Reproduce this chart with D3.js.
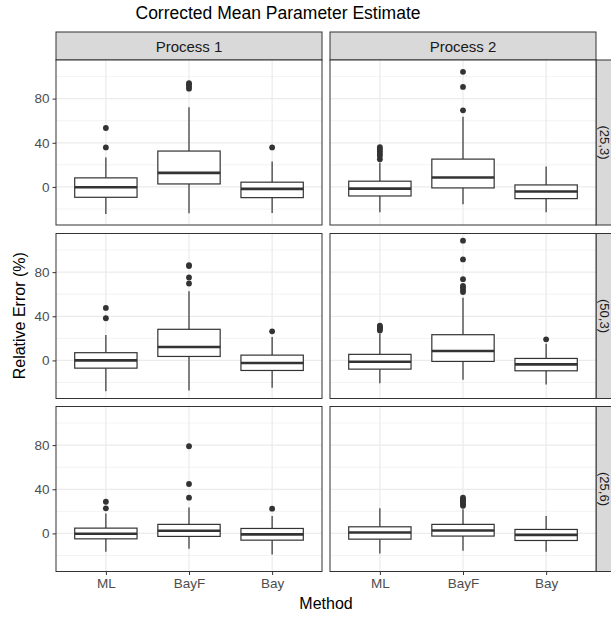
<!DOCTYPE html>
<html>
<head>
<meta charset="utf-8">
<script src="https://cdn.jsdelivr.net/npm/d3@7"></script>
<style>
  body { margin: 0; background: #fff; }
  svg { display: block; font-family: "Liberation Sans", Arial, sans-serif; }
</style>
</head>
<body>
<svg id="chart" width="611" height="617"></svg>
<script>
// ---------- data ----------
const methods = ["ML", "BayF", "Bay"];
const processes = ["Process 1", "Process 2"];
const settings = ["(25,3)", "(50,3)", "(25,6)"];
const yTicks = [0, 40, 80];
const yMinor = [-20, 20, 60, 100];
const titleText = "Corrected Mean Parameter Estimate";
const xTitle = "Method";
const yTitle = "Relative Error (%)";

// stats indexed [setting][process][method]
const whiskerLow = [
  [[-24.5, -23.9, -23.6], [-23.0, -15.7, -23.0]],
  [[-27.9, -27.3, -24.8], [-20.6, -17.6, -21.8]],
  [[-16.7, -14.0, -19.1], [-18.2, -15.8, -16.7]]
];
const q1 = [
  [[-9.4, 2.7, -9.7], [-8.2, -0.9, -10.6]],
  [[-7.0, 3.6, -9.1], [-7.9, -0.9, -9.4]],
  [[-4.9, -2.7, -6.1], [-5.2, -2.4, -6.4]]
];
const median = [
  [[-0.3, 12.7, -1.8], [-1.5, 8.5, -4.2]],
  [[0.0, 12.1, -2.4], [-1.2, 8.5, -3.6]],
  [[-0.3, 2.4, -0.9], [0.9, 2.7, -1.3]]
];
const q3 = [
  [[8.2, 32.5, 4.3], [5.2, 25.2, 1.8]],
  [[7.0, 28.2, 4.8], [5.5, 23.3, 1.8]],
  [[4.8, 8.2, 4.5], [6.0, 8.2, 3.6]]
];
const whiskerHigh = [
  [[26.7, 72.2, 23.0], [21.8, 63.6, 18.5]],
  [[23.0, 62.7, 21.2], [24.2, 56.7, 15.2]],
  [[18.0, 23.6, 15.7], [22.7, 21.8, 15.7]]
];
const outliers = [
  [[[53.4, 35.8], [89, 91, 93, 94], [35.8]],
   [[25, 28, 30, 32, 34, 36], [104.3, 90.6, 69.4], []]],
  [[[47.6, 38.2], [86.4, 85.5, 75.2, 69.7], [26.4]],
   [[27, 28.5, 29.5, 30.5, 31.5], [108.5, 91.5, 73.6, 62, 64, 66, 67.5], [19.1]]],
  [[[28.7, 22.7], [79, 44.8, 32.4], [22.4]],
   [[], [25, 26.5, 28, 29.5, 31, 32.5], []]]
];

// ---------- layout ----------
const svg = d3.select("#chart");
const colX = [56, 330];
const panelW = 266;
const rowY = [60, 233.5, 406.5];
const panelH = 165;
const stripTop = 32;
const stripRightX = 596;
const stripRightW = 18;

// ggplot-like discrete expansion: positions 1..3 within [0.4, 3.6]
const xPos = d3.scalePoint().domain(methods).range([panelW * (0.6 / 3.2), panelW * (2.6 / 3.2)]);
const unitW = panelW / 3.2;
const boxW = unitW * 0.75;
const y = d3.scaleLinear().domain([-34.5, 115]).range([panelH, 0]);

const gridMajor = "#ebebeb";
const dark = "#333333";

// title
svg.append("text").attr("x", 278).attr("y", 18.5).attr("text-anchor", "middle")
  .attr("font-size", 17.5).attr("fill", "#000").text(titleText);

// top strips
processes.forEach((p, j) => {
  const g = svg.append("g").attr("transform", `translate(${colX[j]},${stripTop})`);
  g.append("rect").attr("width", panelW).attr("height", rowY[0] - stripTop)
    .attr("fill", "#d9d9d9").attr("stroke", dark).attr("stroke-width", 1);
  g.append("text").attr("x", panelW / 2).attr("y", (rowY[0] - stripTop) / 2 + 5.5)
    .attr("text-anchor", "middle").attr("font-size", 15).attr("fill", "#1a1a1a").text(p);
});

// right strips
settings.forEach((s, i) => {
  const g = svg.append("g").attr("transform", `translate(${stripRightX},${rowY[i]})`);
  g.append("rect").attr("width", stripRightW).attr("height", panelH)
    .attr("fill", "#d9d9d9").attr("stroke", dark).attr("stroke-width", 1);
  g.append("text").attr("transform", `translate(${stripRightW / 2 - 5},${panelH / 2}) rotate(90)`)
    .attr("text-anchor", "middle").attr("font-size", 13).attr("fill", "#1a1a1a").text(s);
});

// panels
settings.forEach((s, i) => {
  processes.forEach((p, j) => {
    const g = svg.append("g").attr("transform", `translate(${colX[j]},${rowY[i]})`);
    g.append("rect").attr("width", panelW).attr("height", panelH).attr("fill", "#fff");
    g.selectAll(".minor").data(yMinor).join("line")
      .attr("x1", 0).attr("x2", panelW).attr("y1", d => y(d)).attr("y2", d => y(d))
      .attr("stroke", gridMajor).attr("stroke-width", 0.6);
    g.selectAll(".major").data(yTicks).join("line")
      .attr("x1", 0).attr("x2", panelW).attr("y1", d => y(d)).attr("y2", d => y(d))
      .attr("stroke", gridMajor).attr("stroke-width", 1.2);
    g.selectAll(".vgrid").data(methods).join("line")
      .attr("x1", d => xPos(d)).attr("x2", d => xPos(d)).attr("y1", 0).attr("y2", panelH)
      .attr("stroke", gridMajor).attr("stroke-width", 1.2);

    methods.forEach((m, k) => {
      const cx = xPos(m);
      const lo = whiskerLow[i][j][k], a = q1[i][j][k], md = median[i][j][k],
            b = q3[i][j][k], hi = whiskerHigh[i][j][k];
      g.append("line").attr("x1", cx).attr("x2", cx).attr("y1", y(b)).attr("y2", y(hi))
        .attr("stroke", dark).attr("stroke-width", 1.2);
      g.append("line").attr("x1", cx).attr("x2", cx).attr("y1", y(a)).attr("y2", y(lo))
        .attr("stroke", dark).attr("stroke-width", 1.2);
      g.append("rect").attr("x", cx - boxW / 2).attr("width", boxW)
        .attr("y", y(b)).attr("height", y(a) - y(b))
        .attr("fill", "#fff").attr("stroke", dark).attr("stroke-width", 1.2);
      g.append("line").attr("x1", cx - boxW / 2).attr("x2", cx + boxW / 2)
        .attr("y1", y(md)).attr("y2", y(md))
        .attr("stroke", dark).attr("stroke-width", 2.6);
      g.selectAll(null).data(outliers[i][j][k]).join("circle")
        .attr("cx", cx).attr("cy", d => y(d)).attr("r", 2.9).attr("fill", dark);
    });

    g.append("rect").attr("width", panelW).attr("height", panelH)
      .attr("fill", "none").attr("stroke", dark).attr("stroke-width", 1);

    if (j === 0) {
      const ax = g.append("g").call(d3.axisLeft(y).tickValues(yTicks).tickSize(3.5).tickPadding(3));
      ax.select(".domain").remove();
      ax.selectAll(".tick line").attr("stroke", dark);
      ax.selectAll(".tick text").attr("fill", "#4d4d4d").attr("font-size", 13.5)
        .attr("font-family", "Liberation Sans, Arial, sans-serif");
    }
    if (i === settings.length - 1) {
      const ax = g.append("g").attr("transform", `translate(0,${panelH})`)
        .call(d3.axisBottom(xPos).tickSize(3.5).tickPadding(3));
      ax.select(".domain").remove();
      ax.selectAll(".tick line").attr("stroke", dark);
      ax.selectAll(".tick text").attr("fill", "#4d4d4d").attr("font-size", 13.5)
        .attr("font-family", "Liberation Sans, Arial, sans-serif");
    }
  });
});

// axis titles
svg.append("text").attr("x", (colX[0] + stripRightX) / 2).attr("y", 609)
  .attr("text-anchor", "middle").attr("font-size", 16).attr("fill", "#000").text(xTitle);
svg.append("text").attr("transform", `translate(25,${(rowY[0] + rowY[2] + panelH) / 2}) rotate(-90)`)
  .attr("text-anchor", "middle").attr("font-size", 16).attr("fill", "#000").text(yTitle);
</script>
</body>
</html>
